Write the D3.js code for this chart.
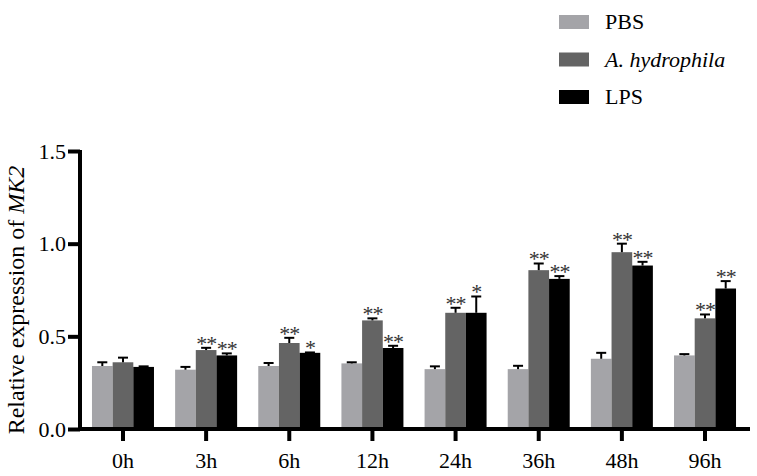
<!DOCTYPE html>
<html>
<head>
<meta charset="utf-8">
<script src="https://cdn.jsdelivr.net/npm/d3@7"></script>
<style>
  body { margin: 0; background: #fff; }
  svg text { font-family: "Liberation Serif", "Times New Roman", serif; }
</style>
</head>
<body>
<div id="chart"></div>
<script>
var categories = ["0h", "3h", "6h", "12h", "24h", "36h", "48h", "96h"];
var groups = ["PBS", "A. hydrophila", "LPS"];
var pbsValues = [0.34, 0.32, 0.34, 0.354, 0.323, 0.323, 0.379, 0.397];
var ahValues  = [0.36, 0.426, 0.464, 0.586, 0.627, 0.857, 0.954, 0.597];
var lpsValues = [0.335, 0.397, 0.411, 0.437, 0.627, 0.81, 0.882, 0.758];
var pbsErr = [0.02, 0.015, 0.016, 0.006, 0.015, 0.018, 0.032, 0.007];
var ahErr  = [0.025, 0.012, 0.028, 0.011, 0.027, 0.036, 0.046, 0.021];
var lpsErr = [0.003, 0.011, 0.002, 0.012, 0.088, 0.015, 0.02, 0.04];
var ahStars  = ["", "**", "**", "**", "**", "**", "**", "**"];
var lpsStars = ["", "**", "*", "**", "*", "**", "**", "**"];
var yTicks = [0, 0.5, 1.0, 1.5];

var colors = ["#a4a4a8", "#646464", "#000000"];
var values = [pbsValues, ahValues, lpsValues];
var errs = [pbsErr, ahErr, lpsErr];
var stars = [[], ahStars, lpsStars];

var W = 757, H = 476;
var svg = d3.select("#chart").append("svg").attr("width", W).attr("height", H);

var y = d3.scaleLinear().domain([0, 1.5]).range([429, 151]);
var x0 = d3.scaleBand().domain(categories).range([81.4, 746.6]).padding(0);
var x1 = d3.scaleBand().domain(groups).range([0, 62]).padding(0);
var groupOffset = (x0.bandwidth() - 62) / 2;

function barMid(c, g) { return x0(c) + groupOffset + x1(g) + x1.bandwidth() / 2; }

// bars, error bars, significance marks
groups.forEach(function(g, gi) {
  var data = categories.map(function(c, i) {
    return { c: c, v: values[gi][i], e: errs[gi][i], s: stars[gi][i] || "" };
  });
  var gEl = svg.append("g");
  gEl.selectAll("rect").data(data).enter().append("rect")
    .attr("x", function(d) { return x0(d.c) + groupOffset + x1(g); })
    .attr("y", function(d) { return y(d.v); })
    .attr("width", x1.bandwidth())
    .attr("height", function(d) { return y(0) - y(d.v); })
    .attr("fill", colors[gi]);

  gEl.selectAll("line.err").data(data).enter().append("line")
    .attr("x1", function(d) { return barMid(d.c, g); })
    .attr("x2", function(d) { return barMid(d.c, g); })
    .attr("y1", function(d) { return y(d.v); })
    .attr("y2", function(d) { return y(d.v + d.e); })
    .attr("stroke", "#000").attr("stroke-width", 2);
  gEl.selectAll("line.cap").data(data).enter().append("line")
    .attr("x1", function(d) { return barMid(d.c, g) - 5; })
    .attr("x2", function(d) { return barMid(d.c, g) + 5; })
    .attr("y1", function(d) { return y(d.v + d.e); })
    .attr("y2", function(d) { return y(d.v + d.e); })
    .attr("stroke", "#000").attr("stroke-width", 2);

  gEl.selectAll("text.star").data(data.filter(function(d) { return d.s; })).enter().append("text")
    .attr("x", function(d) { return barMid(d.c, g); })
    .attr("y", function(d) { return y(d.v + d.e) + 3; })
    .attr("text-anchor", "middle")
    .attr("font-size", 22)
    .attr("letter-spacing", -1)
    .attr("fill", "#333")
    .text(function(d) { return d.s; });
});

// y axis
var yAxis = svg.append("g").attr("transform", "translate(80,0)")
  .call(d3.axisLeft(y).tickValues(yTicks).tickFormat(d3.format(".1f")).tickSize(12).tickSizeOuter(0));
yAxis.attr("font-family", null).attr("font-size", 22);
yAxis.select(".domain").attr("stroke-width", 4).attr("d", "M0," + (y(0) + 2) + "V" + (y(1.5) - 1));
yAxis.selectAll(".tick line").attr("stroke-width", 4);
yAxis.selectAll(".tick text").attr("x", -14);

// x axis
var xAxis = svg.append("g").attr("transform", "translate(0," + y(0) + ")")
  .call(d3.axisBottom(x0).tickSize(12).tickSizeOuter(0));
xAxis.attr("font-family", null).attr("font-size", 22);
xAxis.select(".domain").attr("stroke-width", 4).attr("d", "M78,0H750");
xAxis.selectAll(".tick line").attr("stroke-width", 4);
xAxis.selectAll(".tick text").attr("y", 23);

// y title
var yt = svg.append("text")
  .attr("transform", "translate(24,300) rotate(-90)")
  .attr("text-anchor", "middle")
  .attr("font-size", 24);
yt.append("tspan").text("Relative expression of ");
yt.append("tspan").attr("font-style", "italic").text("MK2");

// legend
var legend = svg.append("g").attr("transform", "translate(559,0)");
groups.forEach(function(g, i) {
  var row = legend.append("g").attr("transform", "translate(0," + (15 + i * 37.5) + ")");
  row.append("rect").attr("width", 30).attr("height", 14).attr("fill", colors[i]);
  row.append("text").attr("x", 46).attr("y", 14)
    .attr("font-size", 22)
    .attr("font-style", i === 1 ? "italic" : "normal")
    .text(g);
});
</script>
</body>
</html>
